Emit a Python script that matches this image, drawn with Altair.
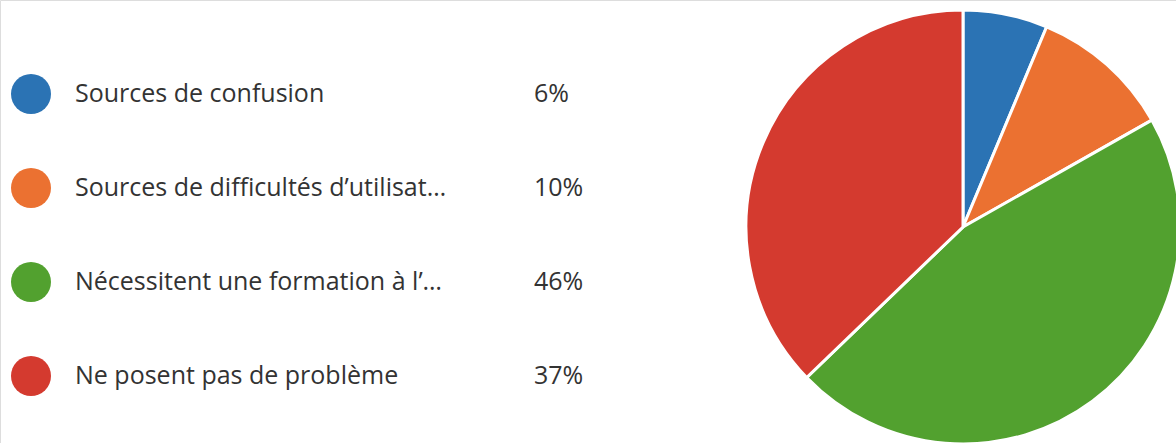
import altair as alt
import pandas as pd

categories = [
    "Sources de confusion",
    "Sources de difficultés d’utilisat…",
    "Nécessitent une formation à l’…",
    "Ne posent pas de problème",
]
values = [6.3, 10.5, 46.0, 37.2]
pct_labels = ["6%", "10%", "46%", "37%"]
colors = ["#2b73b4", "#eb7131", "#52a12f", "#d43a2f"]

df = pd.DataFrame({
    "cat": categories,
    "value": values,
    "pct": pct_labels,
    "idx": list(range(len(categories))),
})

color = alt.Color("cat:N", sort=categories,
                  scale=alt.Scale(domain=categories, range=colors), legend=None)
ypos = alt.Y("cat:N", sort=categories, axis=None,
             scale=alt.Scale(type="point", range=[94, 376], padding=0))

base = alt.Chart(df)

dots = base.mark_circle(size=1600, opacity=1).encode(
    x=alt.value(31), y=ypos, color=color)

labels = base.mark_text(align="left", baseline="middle", font="Open Sans",
                        fontSize=25, color="#333333").encode(
    x=alt.value(75), y=ypos, text="cat:N")

pcts = base.mark_text(align="left", baseline="middle", font="Open Sans",
                      fontSize=25, color="#333333").encode(
    x=alt.value(534), y=ypos, text="pct:N")

pie = base.mark_arc(stroke="white", strokeWidth=3).encode(
    theta=alt.Theta("value:Q", stack=True),
    order=alt.Order("idx:Q"),
    color=color,
    x=alt.value(963), y=alt.value(227), radius=alt.value(217))

chart = alt.layer(pie, dots, labels, pcts).properties(
    width=1176, height=443, padding=0, autosize=alt.AutoSizeParams(type="none")
).configure_view(stroke=None).configure(background="white")

chart.save("out.html", embed_options={"renderer": "svg", "actions": False})
